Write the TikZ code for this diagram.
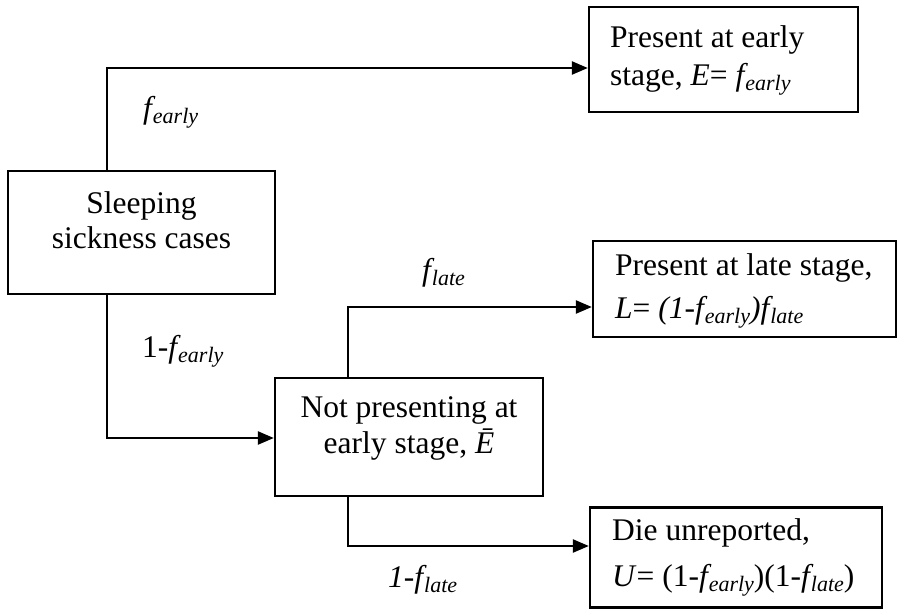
\documentclass[tikz,border=0pt]{standalone}
\usepackage{fontspec}
\setmainfont{Liberation Serif}
\usetikzlibrary{arrows.meta,calc}
\newcommand\mysub[1]{\raisebox{-5pt}{\fontsize{22}{22}\selectfont #1}}
\newcommand\fsub[1]{\textit{f\kern1pt\mysub{#1}}}
\tikzset{
  boxst/.style={draw, line width=2.3pt, inner sep=0pt},
  txt/.style={font=\fontsize{31.5}{37}\selectfont, inner sep=0pt},
  conn/.style={line width=2.3pt, -{Triangle[length=16pt,width=13pt]}},
}
\begin{document}
\begin{tikzpicture}[x=1pt,y=-1pt]
\useasboundingbox (0,0) rectangle (898,611);
% boxes
\node[boxst, minimum width=267pt, minimum height=123pt] (A) at (141.5,232.5) {};
\node[boxst, minimum width=269pt, minimum height=105pt] (B) at (723.5,59.5) {};
\node[boxst, minimum width=268pt, minimum height=118pt] (C) at (409,437) {};
\node[boxst, minimum width=303pt, minimum height=96pt] (D) at (744.5,289) {};
\node[boxst, minimum width=292pt, minimum height=100pt] (E) at (736,557.5) {};
% box texts
\node[txt, anchor=base] (A1) at (141.5,213) {Sleeping};
\node[txt, anchor=base] (A2) at (141.5,248) {sickness cases};
\node[txt, anchor=base west] (B1) at (610,47) {Present at early};
\node[txt, anchor=base west] (B2) at (610,85) {stage, \textit{E}= \fsub{early}};
\node[txt, anchor=base] (C1) at (409,417) {Not presenting at};
\node[txt, anchor=base] (C2) at (409,453) {early stage, \textit{Ē}};
\node[txt, anchor=base west] (D1) at (615,275) {Present at late stage,};
\node[txt, anchor=base west] (D2) at (615,318) {\textit{L}= \textit{(1-}\fsub{early}\textit{)}\fsub{late}};
\node[txt, anchor=base west] (E1) at (612,540) {Die unreported,};
\node[txt, anchor=base west] (E2) at (612,586) {\textit{U}= (1-\fsub{early})(1-\fsub{late})};
% branch labels
\node[txt, anchor=base west] (l1) at (143,118) {\fsub{early}};
\node[txt, anchor=base west] (l2) at (142,357) {1-\fsub{early}};
\node[txt, anchor=base west] (l3) at (422,280) {\fsub{late}};
\node[txt, anchor=base west] (l4) at (388,587) {\textit{1-}\fsub{late}};
% connector corners
\coordinate (a1) at (107,68);
\coordinate (a2) at (107,438);
\coordinate (c1) at (348,307);
\coordinate (c2) at (348,546);
% connectors
\draw[conn] (A.north -| a1) -- (a1) -- (a1 -| B.west);
\draw[conn] (A.south -| a2) -- (a2) -- (a2 -| C.west);
\draw[conn] (C.north -| c1) -- (c1) -- (c1 -| D.west);
\draw[conn] (C.south -| c2) -- (c2) -- (c2 -| E.west);
\end{tikzpicture}
\end{document}
